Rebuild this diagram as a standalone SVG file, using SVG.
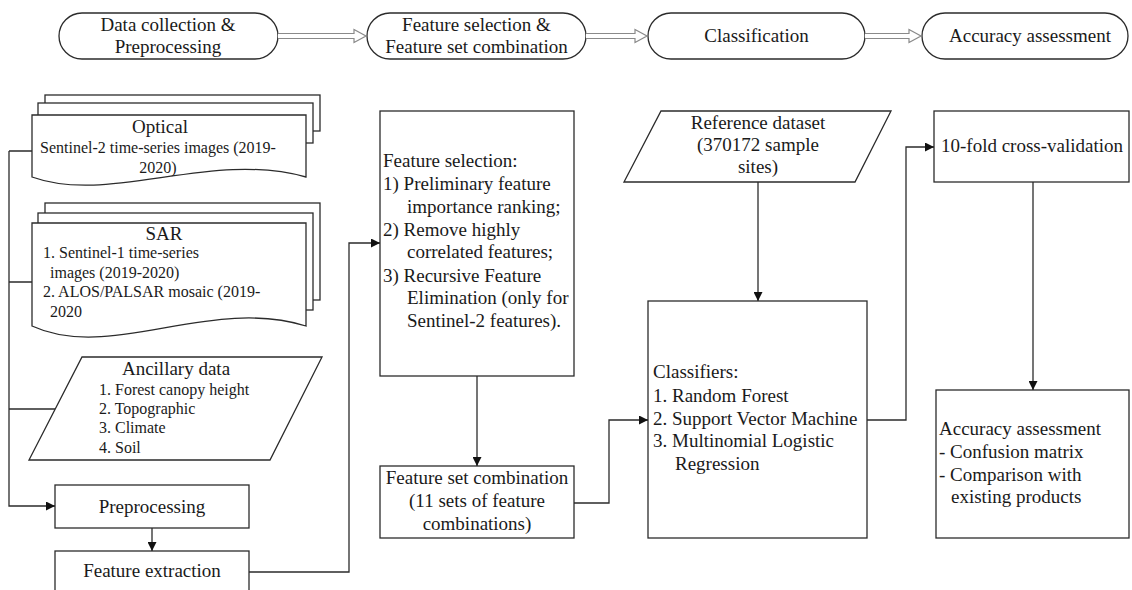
<svg xmlns="http://www.w3.org/2000/svg" width="1132" height="590" viewBox="0 0 1132 590">
<style>
text{font-family:"Liberation Serif","Times New Roman",serif;fill:#1a1a1a}
.t19{font-size:19px}
.t16{font-size:16px}
.mid{text-anchor:middle}
.box{fill:#fff;stroke:#2b2b2b;stroke-width:1.3}
.conn{fill:none;stroke:#2b2b2b;stroke-width:1.3}
.blk{fill:#fff;stroke:#8a8a8a;stroke-width:1.2}
</style>
<defs>
<marker id="ah" viewBox="0 0 10 10" refX="10" refY="5" markerWidth="9" markerHeight="9" markerUnits="userSpaceOnUse" orient="auto">
<path d="M0,0 L10,5 L0,10 z" fill="#111"/>
</marker>
</defs>

<!-- top stage pills -->
<g id="stage1"><rect class="box" x="59" y="13" width="219" height="46" rx="23"/>
<text class="t19 mid" x="168" y="31">Data collection &amp;</text>
<text class="t19 mid" x="168" y="53">Preprocessing</text></g>
<g id="stage2"><rect class="box" x="367" y="13" width="219" height="46" rx="23"/>
<text class="t19 mid" x="476.5" y="31">Feature selection &amp;</text>
<text class="t19 mid" x="476.5" y="53">Feature set combination</text></g>
<g id="stage3"><rect class="box" x="648" y="13" width="217" height="46" rx="23"/>
<text class="t19 mid" x="756.5" y="42">Classification</text></g>
<g id="stage4"><rect class="box" x="922" y="13" width="206" height="46" rx="23"/>
<text class="t19 mid" x="1030" y="42">Accuracy assessment</text></g>

<!-- optical doc stack -->
<g id="optical">
<rect class="box" x="45" y="95" width="275" height="36"/>
<rect class="box" x="38" y="103" width="275" height="40"/>
<path class="box" d="M32,115 L306,115 L306,177 C210,150 110,205 32,177 Z"/>
<text class="t19 mid" x="160" y="133">Optical</text>
<text class="t16" x="40" y="153">Sentinel-2 time-series images (2019-</text>
<text class="t16 mid" x="158" y="173">2020)</text>
</g>

<!-- SAR doc stack -->
<g id="sar">
<rect class="box" x="45" y="203" width="275" height="97"/>
<rect class="box" x="38" y="213" width="275" height="97"/>
<path class="box" d="M32,223 L306,223 L306,326 C210,296 110,362 32,326 Z"/>
<text class="t19 mid" x="164" y="240">SAR</text>
<text class="t16" x="43" y="258">1. Sentinel-1 time-series</text>
<text class="t16" x="50" y="278">images (2019-2020)</text>
<text class="t16" x="43" y="297">2. ALOS/PALSAR mosaic (2019-</text>
<text class="t16" x="50" y="317">2020</text>
</g>

<!-- ancillary -->
<g id="ancillary">
<path class="box" d="M82,357 L322,357 L270,460 L29,460 Z"/>
<text class="t19 mid" x="176" y="375">Ancillary data</text>
<text class="t16" x="99" y="395">1. Forest canopy height</text>
<text class="t16" x="99" y="414">2. Topographic</text>
<text class="t16" x="99" y="433">3. Climate</text>
<text class="t16" x="99" y="453">4. Soil</text>
</g>

<g id="preprocessing"><rect class="box" x="55" y="485" width="194" height="43"/>
<text class="t19 mid" x="152" y="513">Preprocessing</text></g>

<g id="feature-extraction"><rect class="box" x="55" y="551" width="194" height="45"/>
<text class="t19 mid" x="152" y="577">Feature extraction</text></g>

<g id="feature-selection"><rect class="box" x="380" y="111" width="194" height="265"/>
<text class="t19" x="383" y="167">Feature selection:</text>
<text class="t19" x="383" y="190">1) Preliminary feature</text>
<text class="t19" x="407" y="213">importance ranking;</text>
<text class="t19" x="383" y="236">2) Remove highly</text>
<text class="t19" x="407" y="258">correlated features;</text>
<text class="t19" x="383" y="282">3) Recursive Feature</text>
<text class="t19" x="407" y="304">Elimination (only for</text>
<text class="t19" x="407" y="327">Sentinel-2 features).</text>
</g>

<g id="feature-set"><rect class="box" x="380" y="466" width="194" height="72"/>
<text class="t19 mid" x="477" y="484">Feature set combination</text>
<text class="t19 mid" x="477" y="507">(11 sets of feature</text>
<text class="t19 mid" x="477" y="530">combinations)</text>
</g>

<g id="reference"><path class="box" d="M661,111 L891,111 L855,182 L624,182 Z"/>
<text class="t19 mid" x="758" y="129">Reference dataset</text>
<text class="t19 mid" x="758" y="151">(370172 sample</text>
<text class="t19 mid" x="758" y="173">sites)</text>
</g>

<g id="classifiers"><rect class="box" x="648" y="301" width="219" height="237"/>
<text class="t19" x="653" y="378">Classifiers:</text>
<text class="t19" x="653" y="402">1. Random Forest</text>
<text class="t19" x="653" y="425">2. Support Vector Machine</text>
<text class="t19" x="653" y="447">3. Multinomial Logistic</text>
<text class="t19" x="675" y="470">Regression</text>
</g>

<g id="crossval"><rect class="box" x="934" y="111" width="195" height="71"/>
<text class="t19" x="941" y="152">10-fold cross-validation</text></g>

<g id="accuracy"><rect class="box" x="936" y="390" width="193" height="148"/>
<text class="t19" x="939" y="435">Accuracy assessment</text>
<text class="t19" x="939" y="458">- Confusion matrix</text>
<text class="t19" x="939" y="481">- Comparison with</text>
<text class="t19" x="951" y="503">existing products</text>
</g>

<g id="connectors">
<path class="blk" d="M278,33.5 L354,33.5 L354,29.5 L366,36 L354,42.5 L354,38.5 L278,38.5"/>
<path class="blk" d="M586,33.5 L635,33.5 L635,29.5 L647,36 L635,42.5 L635,38.5 L586,38.5"/>
<path class="blk" d="M865,33.5 L909,33.5 L909,29.5 L921,36 L909,42.5 L909,38.5 L865,38.5"/>
<path class="conn" d="M9,151 L32,151 M9,282 L32,282 M9,409 L55,409"/>
<path class="conn" d="M9,151 L9,506 L55,506" marker-end="url(#ah)"/>
<path class="conn" d="M152,528 L152,551" marker-end="url(#ah)"/>
<path class="conn" d="M249,572 L349,572 L349,243 L380,243" marker-end="url(#ah)"/>
<path class="conn" d="M477,376 L477,466" marker-end="url(#ah)"/>
<path class="conn" d="M574,503 L609,503 L609,420 L648,420" marker-end="url(#ah)"/>
<path class="conn" d="M758,182 L758,301" marker-end="url(#ah)"/>
<path class="conn" d="M867,420 L906,420 L906,147 L934,147" marker-end="url(#ah)"/>
<path class="conn" d="M1033,182 L1033,390" marker-end="url(#ah)"/>
</g>
</svg>
